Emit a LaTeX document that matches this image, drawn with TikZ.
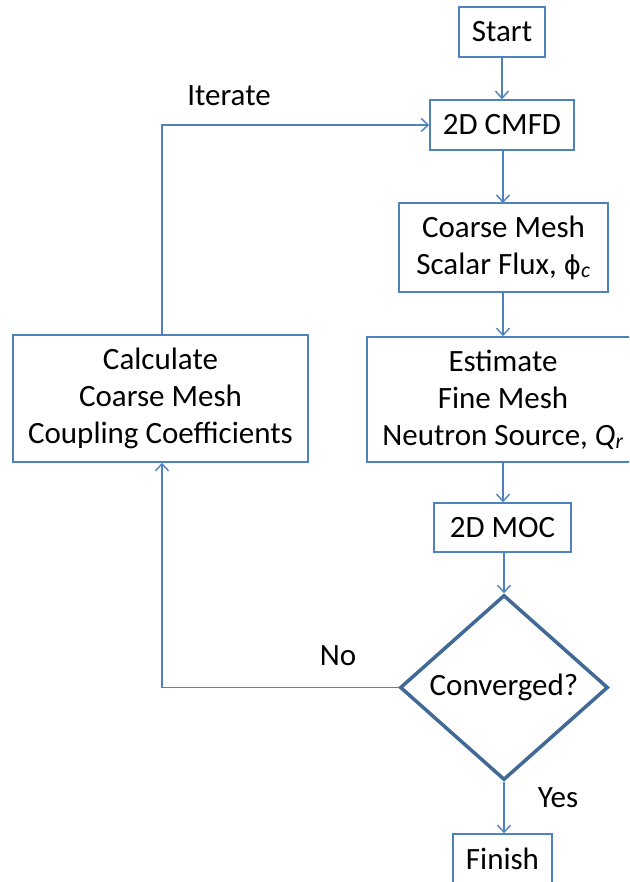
\documentclass[tikz,border=0pt]{standalone}
\usepackage{fontspec}
\setmainfont{Carlito}
\newfontfamily\symfont{DejaVu Sans}
\usetikzlibrary{arrows.meta,shapes.geometric}
\definecolor{boxblue}{RGB}{79,129,189}
\definecolor{diablue}{RGB}{65,105,150}
\tikzset{
  every node/.style={font=\fontsize{31}{37}\selectfont, text=black},
  stepbox/.style={draw=boxblue, line width=1.6pt, align=center, inner sep=0pt},
  decision/.style={diamond, draw=diablue, line width=3.5pt, inner sep=0pt, minimum width=208pt, minimum height=185pt},
  flow/.style={draw=boxblue, line width=1.6pt, -{Straight Barb[length=7pt,width=13pt,line width=1.4pt]}},
  lbl/.style={inner sep=0pt}
}
\begin{document}
\begin{tikzpicture}[x=1pt,y=-1pt]
\clip (0,0) rectangle (629,882);
\fill[white] (0,0) rectangle (629,882);
\node[stepbox, minimum width=86pt, minimum height=50pt] (start) at (502,32) {Start};
\node[stepbox, minimum width=144pt, minimum height=50pt] (cmfd) at (502,125) {2D CMFD};
\node[stepbox, minimum width=209pt, minimum height=89pt] (coarse) at (503.5,247.5) {Coarse Mesh\\Scalar Flux, {\symfont\fontsize{26}{37}\selectfont ϕ}\textsubscript{\textit{c}}};
\node[stepbox, minimum width=272pt, minimum height=125pt] (est) at (503,399.5) {Estimate\\Fine Mesh\\Neutron Source, \textit{Q}\textsubscript{\textit{r}}};
\node[stepbox, minimum width=137pt, minimum height=49pt] (moc) at (502.5,527.5) {2D MOC};
\node[decision] (conv) at (504,687.5) {Converged?};
\node[stepbox, minimum width=99pt, minimum height=50pt] (finish) at (502.5,859) {Finish};
\node[stepbox, minimum width=295pt, minimum height=127pt] (calc) at (160.5,398.5) {Calculate\\Coarse Mesh\\Coupling Coefficients};
\coordinate (ctop) at (162,125);
\coordinate (cbot) at (162,687.5);
\draw[flow] (start.south) -- (cmfd.north);
\draw[flow] (cmfd.south -| 503,0) -- (503,203);
\draw[flow] (coarse.south -| 503,0) -- (est.north -| 503,0);
\draw[flow] (est.south -| 503,0) -- (moc.north -| 503,0);
\draw[flow] (moc.south -| 504,0) -- (conv.north);
\draw[flow] (conv.south) -- (finish.north -| 504,0);
\draw[flow] (conv.west) -- (cbot) -- (calc.south -| cbot);
\draw[flow] (calc.north -| ctop) -- (ctop) -- (cmfd.west);
\node[lbl] (iter) at (229,96) {Iterate};
\node[lbl] (no) at (338,656) {No};
\node[lbl] (yes) at (558,798) {Yes};
\end{tikzpicture}
\end{document}
